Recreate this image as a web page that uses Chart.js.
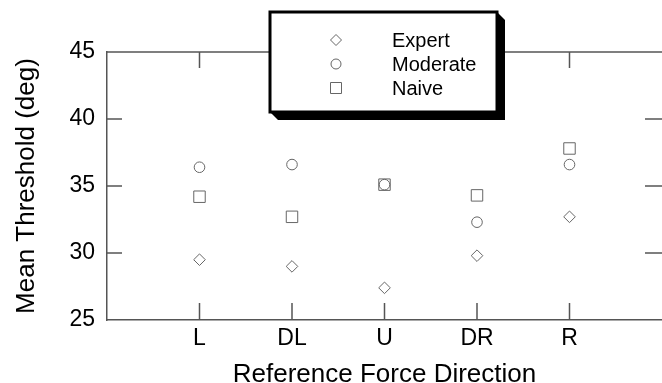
<!DOCTYPE html>
<html lang="en">
<head>
    <meta charset="UTF-8">
    <title>Mean Threshold by Reference Force Direction</title>
    <script src="https://cdn.jsdelivr.net/npm/chart.js"></script>
    <style>
        body { margin: 0; background: #fff; }
        canvas { display: block; }
    </style>
</head>
<body>
    <canvas id="chart" width="662" height="383"></canvas>
    <script>
        // data
        const directions = ['L', 'DL', 'U', 'DR', 'R'];
        const expert   = [29.5, 29.0, 27.4, 29.8, 32.7];
        const moderate = [36.4, 36.6, 35.1, 32.3, 36.6];
        const naive    = [34.2, 32.7, 35.1, 34.3, 37.8];
        const yTicks = [25, 30, 35, 40, 45];

        const FONT = 'Arial, "Liberation Sans", sans-serif';
        const MARK = '#666';
        const AXIS = '#555';

        function toPoints(values) {
            return values.map((v, i) => ({ x: i + 1, y: v }));
        }

        // inner tick marks, top frame line and the boxed legend
        const framePlugin = {
            id: 'frame',
            afterDraw(chart) {
                const ctx = chart.ctx;
                const area = chart.chartArea;
                const xs = chart.scales.x, ys = chart.scales.y;
                ctx.save();
                ctx.strokeStyle = AXIS;
                ctx.lineWidth = 1.5;
                ctx.beginPath();
                ctx.moveTo(area.left, area.top);
                ctx.lineTo(area.right, area.top);
                yTicks.slice(1, -1).forEach(v => {
                    const y = ys.getPixelForValue(v);
                    ctx.moveTo(area.left, y); ctx.lineTo(area.left + 15, y);
                    ctx.moveTo(area.right - 17, y); ctx.lineTo(area.right, y);
                });
                directions.forEach((d, i) => {
                    const x = xs.getPixelForValue(i + 1);
                    ctx.moveTo(x, area.bottom); ctx.lineTo(x, area.bottom - 17);
                    ctx.moveTo(x, area.top); ctx.lineTo(x, area.top + 16);
                });
                ctx.stroke();

                // legend box with shadow
                const bx = 270, by = 12, bw = 227, bh = 100, sh = 8;
                ctx.fillStyle = '#000';
                ctx.beginPath();
                ctx.moveTo(bx + bw, by);
                ctx.lineTo(bx + bw + sh, by + sh);
                ctx.lineTo(bx + bw + sh, by + bh + sh);
                ctx.lineTo(bx + sh, by + bh + sh);
                ctx.lineTo(bx, by + bh);
                ctx.closePath();
                ctx.fill();
                ctx.fillStyle = '#fff';
                ctx.fillRect(bx, by, bw, bh);
                ctx.strokeStyle = '#000';
                ctx.lineWidth = 3;
                ctx.strokeRect(bx, by, bw, bh);

                ctx.font = '20px ' + FONT;
                ctx.textBaseline = 'middle';
                ctx.textAlign = 'left';
                chart.data.datasets.forEach((ds, i) => {
                    const cy = 40 + i * 24, cx = 336;
                    ctx.strokeStyle = MARK;
                    ctx.lineWidth = 1;
                    ctx.beginPath();
                    if (ds.pointStyle === 'rectRot') {
                        const r = 5.5;
                        ctx.moveTo(cx, cy - r); ctx.lineTo(cx + r, cy);
                        ctx.lineTo(cx, cy + r); ctx.lineTo(cx - r, cy);
                        ctx.closePath();
                    } else if (ds.pointStyle === 'circle') {
                        ctx.arc(cx, cy, 5, 0, Math.PI * 2);
                    } else {
                        ctx.rect(cx - 5.5, cy - 5.5, 11, 11);
                    }
                    ctx.stroke();
                    ctx.fillStyle = '#000';
                    ctx.fillText(ds.label, 392, cy + 1);
                });
                ctx.restore();
            }
        };

        const pointDefaults = {
            showLine: false,
            borderColor: MARK,
            backgroundColor: 'rgba(0,0,0,0)',
            borderWidth: 1,
            pointHoverRadius: 6
        };

        new Chart(document.getElementById('chart'), {
            type: 'scatter',
            data: {
                datasets: [
                    { ...pointDefaults, label: 'Expert', data: toPoints(expert), pointStyle: 'rectRot', pointRadius: 5.8 },
                    { ...pointDefaults, label: 'Moderate', data: toPoints(moderate), pointStyle: 'circle', pointRadius: 5.3 },
                    { ...pointDefaults, label: 'Naive', data: toPoints(naive), pointStyle: 'rect', pointRadius: 8.1 }
                ]
            },
            options: {
                responsive: false,
                devicePixelRatio: 1,
                animation: false,
                layout: { autoPadding: false, padding: { top: 52, left: 0, right: 0, bottom: 0 } },
                plugins: {
                    legend: { display: false },
                    tooltip: { enabled: false }
                },
                scales: {
                    x: {
                        type: 'linear',
                        min: 0,
                        max: 6,
                        afterFit(scale) {
                            scale.height = 63;
                            scale.paddingLeft = 0;
                            scale.paddingRight = 0;
                        },
                        afterBuildTicks(scale) {
                            scale.ticks = directions.map((d, i) => ({ value: i + 1 }));
                        },
                        grid: { display: false, drawTicks: false },
                        border: { display: true, color: AXIS, width: 1.5 },
                        ticks: {
                            padding: 5,
                            color: '#000',
                            font: { family: FONT, size: 23 },
                            callback: v => directions[v - 1]
                        },
                        title: {
                            display: true,
                            text: 'Reference Force Direction',
                            color: '#000',
                            font: { family: FONT, size: 26, lineHeight: 1 },
                            padding: { top: 0, bottom: -5 }
                        }
                    },
                    y: {
                        min: 25,
                        max: 45,
                        afterFit(scale) { scale.width = 107; },
                        afterBuildTicks(scale) {
                            scale.ticks = yTicks.map(v => ({ value: v }));
                        },
                        grid: { display: false, drawTicks: false },
                        border: { display: true, color: AXIS, width: 1.5 },
                        ticks: {
                            padding: 12,
                            color: '#000',
                            font: { family: FONT, size: 23 }
                        },
                        title: {
                            display: true,
                            text: 'Mean Threshold (deg)',
                            color: '#000',
                            font: { family: FONT, size: 26 },
                            padding: { top: 11, bottom: 0 }
                        }
                    }
                }
            },
            plugins: [framePlugin]
        });
    </script>
</body>
</html>
